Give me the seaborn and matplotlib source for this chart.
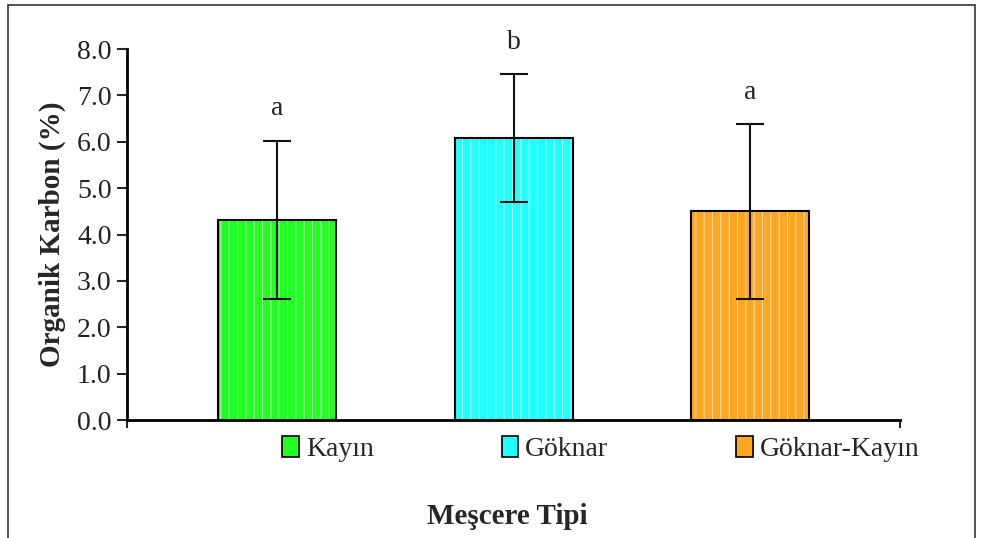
import matplotlib
matplotlib.use("Agg")
import matplotlib.pyplot as plt
import matplotlib.patches as mpatches
import seaborn as sns
import pandas as pd
import numpy as np

categories = ["Kayın", "Göknar", "Göknar-Kayın"]
means = [4.32, 6.08, 4.50]
errors = [1.70, 1.38, 1.88]
letters = ["a", "b", "a"]
colors = ["#22FF22", "#22FFFF", "#FFA722"]
yticks = [0, 1, 2, 3, 4, 5, 6, 7, 8]

sns.set_theme(style="white")
plt.rcParams["font.family"] = ["Liberation Serif", "DejaVu Serif"]
plt.rcParams["hatch.linewidth"] = 0.8

df = pd.DataFrame({"tip": categories, "val": means})

fig = plt.figure(figsize=(9.84, 5.38), dpi=100)
ax = fig.add_axes([0.129, 0.2193, 0.786, 0.6896])

sns.barplot(data=df, x="tip", y="val", hue="tip", palette=colors, width=0.5,
            saturation=1, legend=False, ax=ax, edgecolor="white", linewidth=0,
            hatch="||")
for p in ax.patches:
    p.set_edgecolor((1, 1, 1, 0.6))
x = np.arange(len(categories))
# outline
ax.bar(x, means, width=0.5, fill=False, edgecolor="black", linewidth=1.5, zorder=3)
ax.errorbar(x, means, yerr=errors, fmt="none", ecolor="#111111", elinewidth=1.5,
            capsize=10, capthick=1.5, zorder=4)
for xi, m, e, l in zip(x, means, errors, letters):
    ax.text(xi, m + e + 0.42, l, ha="center", va="bottom", fontsize=20, color="#222222")

ax.set_xlim(-0.635, 2.635)
ax.set_ylim(0, 8)
ax.set_yticks(yticks)
ax.set_yticklabels([f"{v:.1f}" for v in yticks], fontsize=20, color="#222222")
ax.set_xticks([-0.635, 2.635])
ax.set_xticklabels([])
ax.tick_params(axis="y", direction="out", length=7, width=1.5, left=True, pad=4)
ax.tick_params(axis="x", direction="out", length=6, width=1.5, bottom=True)
for s in ["top", "right"]:
    ax.spines[s].set_visible(False)
for s in ["left", "bottom"]:
    ax.spines[s].set_linewidth(2)
    ax.spines[s].set_color("black")
ax.set_xlabel("")
ax.set_ylabel("Organik Karbon (%)", fontsize=21, fontweight="bold", labelpad=8)

handles = [mpatches.Patch(facecolor=c, edgecolor="black", linewidth=1.2) for c in colors]
fig.legend(handles, categories, loc="center left", bbox_to_anchor=(0.287, 0.165), ncol=3,
           frameon=False, fontsize=20, handlelength=0.6, handleheight=0.8,
           handletextpad=0.25, columnspacing=4.6, borderpad=0, borderaxespad=0)

fig.text(0.516, 0.04, "Meşcere Tipi", ha="center", va="center", fontsize=21,
         fontweight="bold")

frame = mpatches.Rectangle((8 / 984, -0.1), (975 - 8) / 984, 1.1 - 5 / 538,
                           transform=fig.transFigure, fill=False,
                           edgecolor="#333333", linewidth=1.2)
fig.patches.append(frame)

fig.savefig("out.png", dpi=100)
